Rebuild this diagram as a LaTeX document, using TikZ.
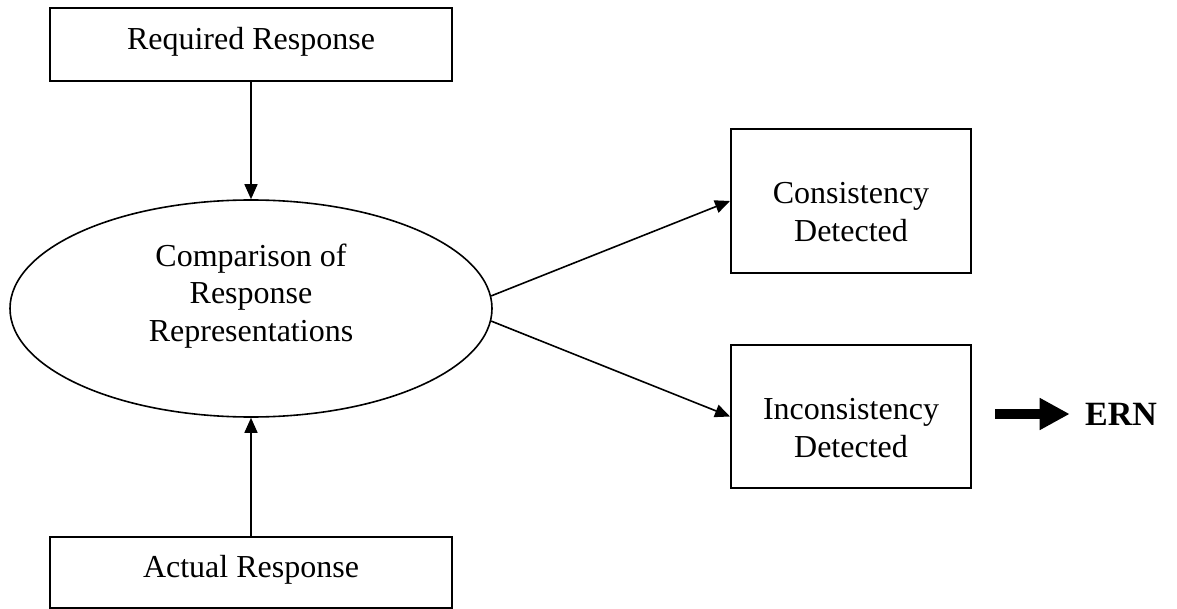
\documentclass[tikz,border=0pt]{standalone}
\usepackage{fontspec}
\setmainfont{Liberation Serif}
\usetikzlibrary{shapes.geometric,arrows.meta}
\begin{document}
\begin{tikzpicture}[x=0.5pt,y=-0.5pt,
  boxnode/.style={draw,line width=1pt,rectangle,inner sep=0pt},
  txt/.style={font=\fontsize{16pt}{18.75pt}\selectfont,align=center,inner sep=0pt},
  conn/.style={line width=0.8pt,-{Triangle[length=7.5pt,width=6.5pt]}},
  bigarrow/.style={line width=5pt,-{Triangle[length=15pt,width=15pt]}}]
\useasboundingbox (0,0) rectangle (1177,609);
% boxes
\node[boxnode,minimum width=201pt,minimum height=36.5pt] (req) at (251,44.5) {};
\node[txt] (reqtext) at (251,42) {Required Response};
\node[boxnode,minimum width=201pt,minimum height=35.5pt] (act) at (251,572.5) {};
\node[txt] (acttext) at (251,570) {Actual Response};
\node[draw,line width=0.8pt,ellipse,inner sep=0pt,minimum width=241pt,minimum height=108.5pt] (cmp) at (251,308.5) {};
\node[txt] (cmptext) at (251,296) {Comparison of\\Response\\Representations};
\node[boxnode,minimum width=120pt,minimum height=72pt] (cons) at (851,201) {};
\node[txt] (constext) at (851,212) {Consistency\\Detected};
\node[boxnode,minimum width=120pt,minimum height=71.5pt] (incons) at (851,416.5) {};
\node[txt] (inconstext) at (851,428) {Inconsistency\\Detected};
\node[font=\fontsize{17pt}{20pt}\selectfont\bfseries,inner sep=0pt] (ern) at (1121,414) {ERN};
\coordinate (bigstart) at (995,414);
% connectors
\draw[conn] (req.south) -- (cmp.north);
\draw[conn] (act.north) -- (cmp.south);
\draw[conn] (cmp.3) -- (cons.west);
\draw[conn] (cmp.-3) -- (incons.west);
\draw[bigarrow,shorten >=7.5pt] (bigstart) -- (ern.west);
\end{tikzpicture}
\end{document}
